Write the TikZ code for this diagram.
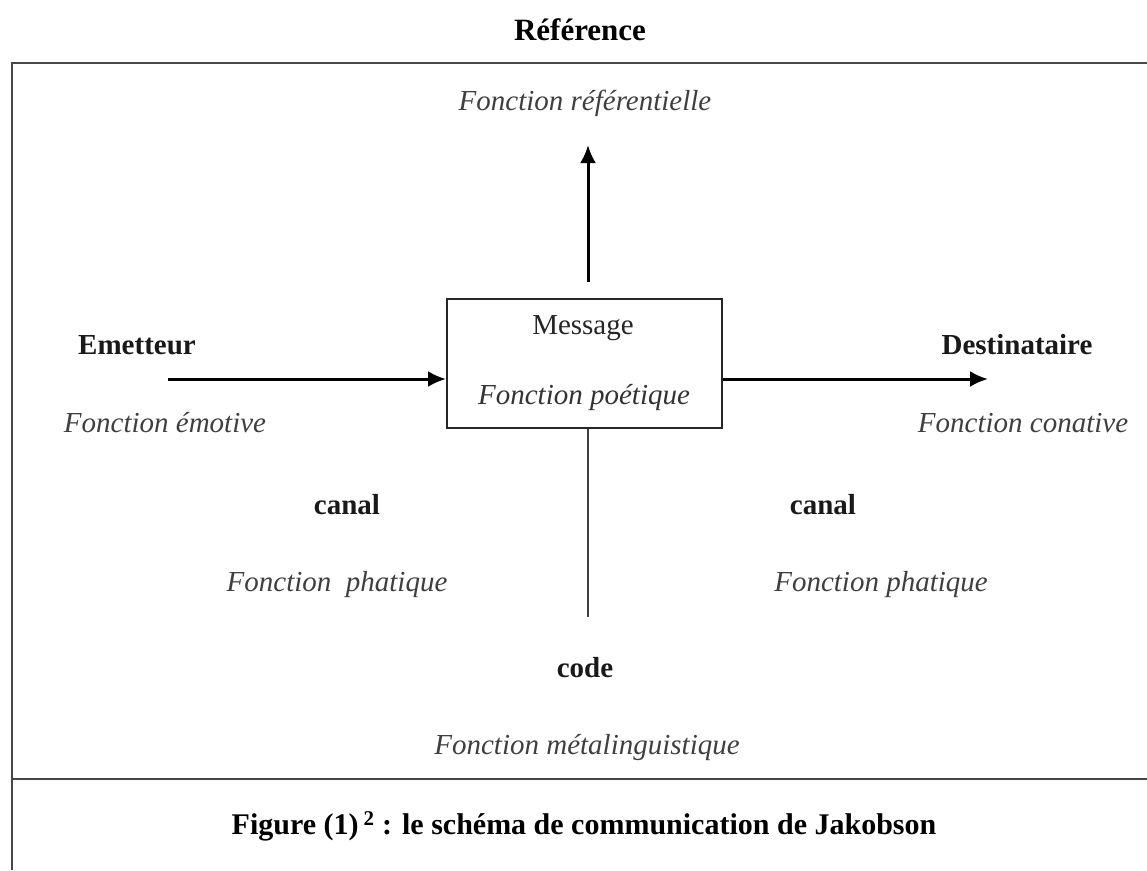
\documentclass[tikz,border=0pt]{standalone}
\usepackage{fontspec}
\setmainfont{Liberation Serif}
\usetikzlibrary{arrows.meta}
\definecolor{labgray}{HTML}{3F3F3F}
\definecolor{frame}{HTML}{474747}
\tikzset{
  fn/.style={font=\fontsize{29}{34}\selectfont\itshape, text=labgray, inner sep=0pt},
  role/.style={font=\fontsize{29}{34}\selectfont\bfseries, text=black!90, inner sep=0pt},
  arr/.style={line width=3pt, -{Latex[length=18pt,width=16pt]}},
  msgbox/.style={draw=black!85, line width=2pt, minimum width=275pt, minimum height=129pt, inner sep=0pt},
}
\begin{document}
\begin{tikzpicture}[x=1pt,y=-1pt]
\useasboundingbox (0,0) rectangle (1147,870);
% frame
\draw[frame, line width=2.4pt] (12,870) -- (12,63) -- (1147,63);
\draw[frame, line width=2.4pt] (12,779) -- (1147,779);
% title
\node[font=\fontsize{31}{36}\selectfont\bfseries, inner sep=0pt] (ref) at (580,30) {Référence};
% message box
\node[msgbox] (msg) at (584.5,363.5) {};
\node[font=\fontsize{29}{34}\selectfont, text=black!85, inner sep=0pt] (msgt) at (583,328) {Message};
\node[fn, text=black!80] (poet) at (584,398) {Fonction poétique};
% labels
\node[fn] (refl) at (585,103) {Fonction référentielle};
\node[role] (em) at (137,345) {Emetteur};
\node[fn] (emo) at (165,423) {Fonction émotive};
\node[role] (dest) at (1017,345) {Destinataire};
\node[fn] (con) at (1023,423) {Fonction conative};
\node[role] (canl) at (347,505) {canal};
\node[fn] (phl) at (337,585) {Fonction\ \ phatique};
\node[role] (canr) at (823,505) {canal};
\node[fn] (phr) at (881,585) {Fonction phatique};
\node[role] (code) at (585,668) {code};
\node[fn] (meta) at (587,747) {Fonction métalinguistique};
\node[font=\fontsize{30}{35}\selectfont\bfseries, inner sep=0pt] (cap) at (584,826) {Figure (1)\,\textsuperscript{2} : le schéma de communication de Jakobson};
% connectors
\coordinate (upstart) at (588,282);
\coordinate (upend) at (588,145);
\draw[arr] (upstart) -- (upend);
\coordinate (lstart) at (168,379);
\draw[arr] (lstart) -- (msg.west |- lstart);
\coordinate (rend) at (988,379);
\draw[arr] (msg.east |- rend) -- (rend);
\coordinate (vend) at (588,617);
\draw[black!75, line width=2.2pt] (msg.south -| vend) -- (vend);
\end{tikzpicture}
\end{document}
